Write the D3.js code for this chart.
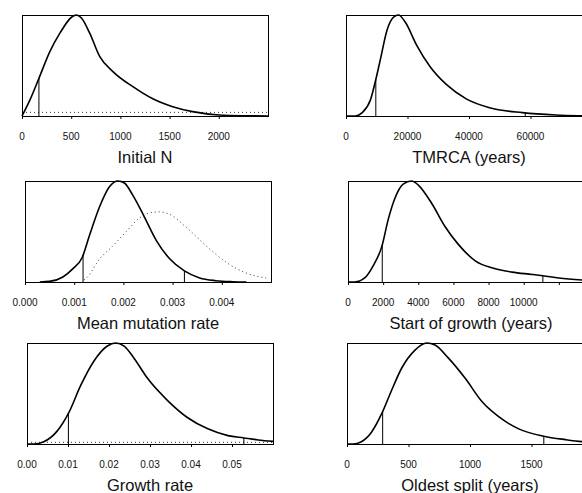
<!DOCTYPE html>
<html lang="en">
<head>
  <meta charset="UTF-8">
  <title>Posterior densities</title>
  <script src="https://d3js.org/d3.v7.min.js"></script>
  <style>
    body { margin: 0; background: #fff; }
    svg { display: block; font-family: "Liberation Sans", Arial, sans-serif; }
    .box { fill: none; stroke: #000; stroke-width: 1; }
    .post { fill: none; stroke: #000; stroke-width: 1.6; }
    .prior { fill: none; stroke: #333; stroke-width: 1; stroke-dasharray: 1,3; }
    .hpd { stroke: #000; stroke-width: 1; }
    .tick-label { font-size: 10px; fill: #111; }
    .title { font-size: 16.5px; fill: #111; }
  </style>
</head>
<body>
<svg width="582" height="493"></svg>
<script>
  // posterior curves (x, relative density)
  const initN = [[0,0],[81,0.16],[172,0.373],[283,0.637],[385,0.82],[506,0.98],[553,1],[604,0.97],[688,0.82],[789,0.59],[924,0.44],[1127,0.29],[1329,0.17],[1532,0.092],[1734,0.043],[2004,0.01],[2274,0.002],[2500,0]];
  const tmrca = [[0,0],[3120,0],[5270,0.033],[7960,0.16],[9680,0.36],[11180,0.56],[13330,0.85],[15480,0.98],[17100,1],[19250,0.93],[23000,0.7],[27300,0.49],[32700,0.31],[39100,0.17],[46700,0.082],[57400,0.033],[68200,0.01],[75700,0.003],[80000,0.001]];
  const mutRate = [[0.0003,0],[0.0005,0.006],[0.00077,0.05],[0.00097,0.13],[0.00116,0.24],[0.00131,0.46],[0.00152,0.75],[0.00172,0.945],[0.00189,1],[0.00202,0.98],[0.00219,0.86],[0.0024,0.67],[0.00267,0.41],[0.00294,0.23],[0.00324,0.11],[0.00355,0.04],[0.00388,0.013],[0.00422,0.003],[0.0045,0]];
  const mutPrior = [[0.0012,0.02],[0.00125,0.04],[0.00152,0.23],[0.00179,0.36],[0.00206,0.5],[0.00233,0.635],[0.0026,0.69],[0.00273,0.694],[0.00294,0.67],[0.00328,0.54],[0.00368,0.36],[0.00409,0.195],[0.00449,0.09],[0.0049,0.04]];
  const growthStart = [[0,0],[380,0],[950,0.04],[1430,0.16],[1940,0.36],[2290,0.62],[2670,0.83],[3140,0.97],[3620,1],[4000,0.96],[4760,0.78],[5520,0.55],[6290,0.37],[7240,0.21],[8190,0.14],[9330,0.098],[10480,0.075],[11090,0.062],[12000,0.039],[13330,0.02],[14000,0.014]];
  const growthRate = [[0,0],[0.0016,0],[0.0041,0.023],[0.0074,0.13],[0.0102,0.31],[0.0131,0.58],[0.0163,0.82],[0.0196,0.97],[0.0216,1],[0.0237,0.97],[0.0261,0.85],[0.0294,0.65],[0.0343,0.43],[0.0392,0.26],[0.0441,0.15],[0.049,0.083],[0.0529,0.06],[0.0564,0.04],[0.06,0.026]];
  const oldestSplit = [[0,0],[49,0],[117,0.023],[199,0.117],[286,0.31],[362,0.53],[444,0.75],[553,0.93],[648,1],[716,0.98],[825,0.85],[961,0.65],[1097,0.42],[1233,0.27],[1396,0.15],[1600,0.077],[1777,0.043],[1913,0.023],[2000,0.016]];

  // flat priors
  const initNPrior = [[0,0.036],[2500,0.036]];
  const growthPrior = [[0,0.017],[0.06,0.017]];

  // 95% interval bounds
  const initNHpd = [172];
  const tmrcaHpd = [9700, 58300];
  const mutHpd = [0.00118, 0.00324];
  const growthStartHpd = [1950, 11090];
  const growthRateHpd = [0.0101, 0.0529];
  const splitHpd = [290, 1600];

  const panels = [
    {title: "Initial N", left: 22, top: 15, domain: [0, 2500], ticks: [0,500,1000,1500,2000], labels: [0,500,1000,1500,2000], fmt: d3.format("d"), post: initN, prior: initNPrior, hpd: initNHpd},
    {title: "TMRCA (years)", left: 346, top: 15, domain: [0, 80000], ticks: [0,20000,40000,60000], labels: [0,20000,40000,60000], fmt: d3.format("d"), post: tmrca, hpd: tmrcaHpd},
    {title: "Mean mutation rate", left: 25, top: 181, domain: [0, 0.005], ticks: [0,0.001,0.002,0.003,0.004], labels: [0,0.001,0.002,0.003,0.004], fmt: d3.format(".3f"), post: mutRate, prior: mutPrior, hpd: mutHpd},
    {title: "Start of growth (years)", left: 348, top: 181, domain: [0, 14000], ticks: [0,2000,4000,6000,8000,10000,12000], labels: [0,2000,4000,6000,8000,10000], fmt: d3.format("d"), post: growthStart, hpd: growthStartHpd},
    {title: "Growth rate", left: 27, top: 343, domain: [0, 0.06], ticks: [0,0.01,0.02,0.03,0.04,0.05], labels: [0,0.01,0.02,0.03,0.04,0.05], fmt: d3.format(".2f"), post: growthRate, prior: growthPrior, hpd: growthRateHpd},
    {title: "Oldest split (years)", left: 347, top: 343, domain: [0, 2000], ticks: [0,500,1000,1500], labels: [0,500,1000,1500], fmt: d3.format("d"), post: oldestSplit, hpd: splitHpd}
  ];

  const W = 246, H = 101;
  const svg = d3.select("svg");

  function densityAt(data, x) {
    for (let i = 1; i < data.length; i++) {
      if (x <= data[i][0]) {
        const a = data[i - 1], b = data[i];
        return a[1] + (b[1] - a[1]) * (x - a[0]) / (b[0] - a[0]);
      }
    }
    return 0;
  }

  panels.forEach(p => {
    const g = svg.append("g").attr("transform", `translate(${p.left},${p.top})`);
    const x = d3.scaleLinear().domain(p.domain).range([0, W]);
    const y = d3.scaleLinear().domain([0, 1]).range([H, 0]);

    const line = d3.line()
      .x(d => x(d[0]))
      .y(d => y(d[1]))
      .curve(d3.curveMonotoneX);

    if (p.prior) {
      g.append("path").attr("class", "prior").attr("d", line(p.prior));
    }

    g.selectAll("line.hpd")
      .data(p.hpd)
      .enter().append("line")
      .attr("class", "hpd")
      .attr("x1", d => x(d)).attr("x2", d => x(d))
      .attr("y1", H).attr("y2", d => y(densityAt(p.post, d)));

    g.append("path").attr("class", "post").attr("d", line(p.post));

    g.append("rect").attr("class", "box")
      .attr("x", 0.5).attr("y", 0.5).attr("width", W).attr("height", H);

    // axis ticks
    g.selectAll("line.tk")
      .data(p.ticks)
      .enter().append("line")
      .attr("stroke", "#000").attr("stroke-width", 1)
      .attr("x1", d => x(d) + 0.5).attr("x2", d => x(d) + 0.5)
      .attr("y1", H).attr("y2", H + 3);

    g.selectAll("text.tick-label")
      .data(p.labels)
      .enter().append("text")
      .attr("class", "tick-label")
      .attr("text-anchor", "middle")
      .attr("x", d => x(d))
      .attr("y", H + 23.5)
      .text(d => p.fmt(d));

    g.append("text")
      .attr("class", "title")
      .attr("text-anchor", "middle")
      .attr("x", W / 2)
      .attr("y", H + 46.5)
      .text(p.title);
  });
</script>
</body>
</html>
